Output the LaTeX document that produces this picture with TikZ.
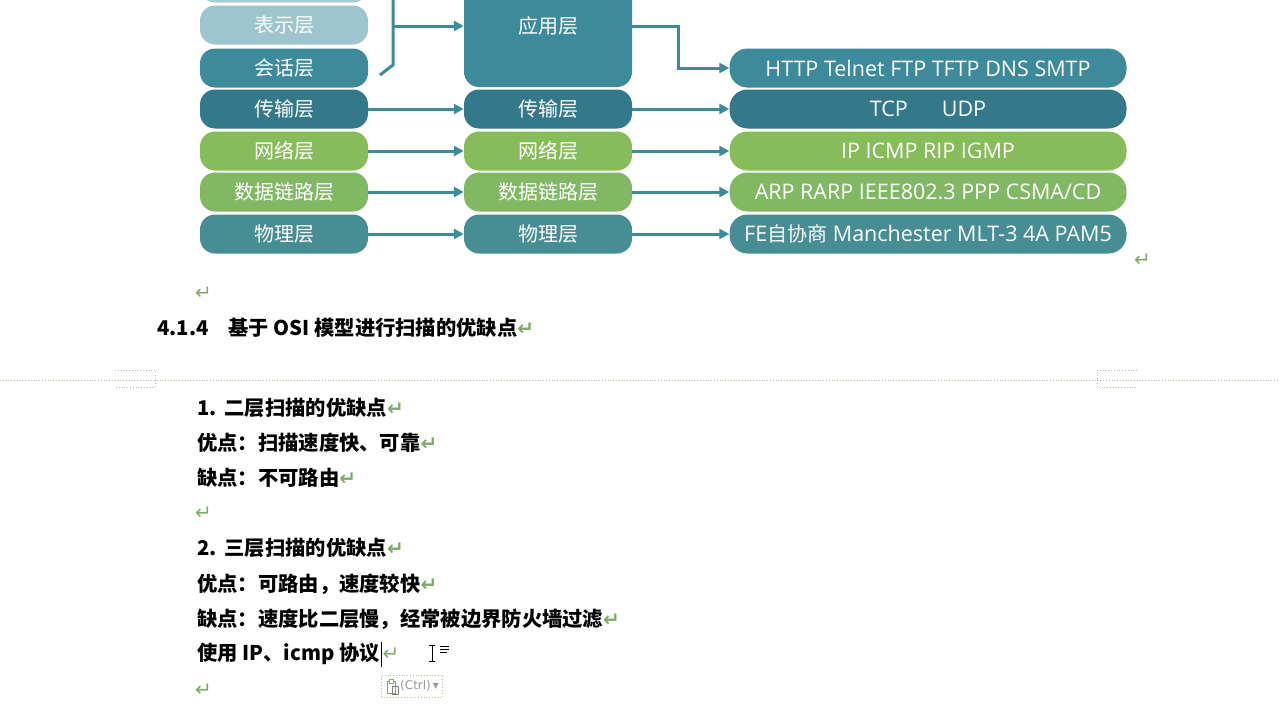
\documentclass[tikz,border=0pt]{standalone}
\usepackage{fontspec}
\setmainfont{Noto Sans CJK SC}
\newfontfamily\symf{DejaVu Sans}
\newfontfamily\latf{Open Sans}
\newcommand{\lat}{\latf\fontsize{21.5}{21.5}\selectfont}
\usetikzlibrary{arrows.meta}
\definecolor{teal1}{HTML}{3D8A9B}
\definecolor{tealdk}{HTML}{33798A}
\definecolor{teal3}{HTML}{478D94}
\definecolor{green1}{HTML}{86BC5A}
\definecolor{green2}{HTML}{82B864}
\definecolor{retc}{HTML}{7FAA68}
\definecolor{rulec}{HTML}{A9C79A}
\newcommand{\ret}{{\symf\color{retc}\fontsize{20}{20}\selectfont ↵}}
\begin{document}
\begin{tikzpicture}[x=1pt,y=-1pt,
  lay/.style={rounded corners=15pt, minimum height=39pt, text=white, inner sep=0pt, font=\fontsize{20}{20}\selectfont},
  lcol/.style={lay, minimum width=168pt},
  rcol/.style={lay, minimum width=397pt, rounded corners=18pt},
  link/.style={draw=teal1, line width=3pt},
  arr/.style={link, -{Triangle[length=10pt,width=10pt]}},
  body/.style={anchor=west, inner sep=0pt, font=\bfseries\fontsize{20.3}{20.3}\selectfont},
  retn/.style={anchor=west, inner sep=0pt, font=\symf\fontsize{20}{20}\selectfont, text=retc}
]
\fill[white] (0,0) rectangle (1280,720);
\useasboundingbox (0,0) rectangle (1280,720);

% left column
\node[lcol, fill=teal1!45] (p0) at (284,-17) {};
\node[lcol, fill=teal1!50] (p1) at (284,25) {表示层};
\node[lcol, fill=teal1] (s) at (284,68) {会话层};
\node[lcol, fill=tealdk] (t) at (284,109) {传输层};
\node[lcol, fill=green1] (n) at (284,151) {网络层};
\node[lcol, fill=green2] (d) at (284,192) {数据链路层};
\node[lcol, fill=teal3] (ph) at (284,234) {物理层};

% middle column
\node[lcol, fill=teal1, minimum height=122pt] (a) at (548,26) {应用层};
\node[lcol, fill=tealdk] (t2) at (548,109) {传输层};
\node[lcol, fill=green1] (n2) at (548,151) {网络层};
\node[lcol, fill=green2] (d2) at (548,192) {数据链路层};
\node[lcol, fill=teal3] (ph2) at (548,234) {物理层};

% right column
\node[rcol, fill=teal1] (h) at (928,68) {\lat HTTP Telnet FTP TFTP DNS SMTP};
\node[rcol, fill=tealdk] (t3) at (928,109) {\lat TCP\hspace{34pt}UDP};
\node[rcol, fill=green1] (n3) at (928,151) {\lat IP ICMP RIP IGMP};
\node[rcol, fill=green2] (d3) at (928,192) {\lat ARP RARP IEEE802.3 PPP CSMA/CD};
\node[rcol, fill=teal3] (ph3) at (928,234) {{\lat FE}自协商{\lat\ Manchester MLT-3 4A PAM5}};

% connectors
\coordinate (b0) at (393,-5);
\coordinate (bm) at (393,26);
\coordinate (b1) at (393,65);
\coordinate (b2) at (380,75);
\draw[link] (b0) -- (b1) -- (b2);
\draw[arr] (bm) -- (a.west);
\coordinate (ak) at (678,26);
\draw[arr] (a.east) -- (ak) |- (h.west);
\draw[arr] (t.east) -- (t2.west);
\draw[arr] (n.east) -- (n2.west);
\draw[arr] (d.east) -- (d2.west);
\draw[arr] (ph.east) -- (ph2.west);
\draw[arr] (t2.east) -- (t3.west);
\draw[arr] (n2.east) -- (n3.west);
\draw[arr] (d2.east) -- (d3.west);
\draw[arr] (ph2.east) -- (ph3.west);

% paragraph marks
\node[retn] (r1) at (1134,260) {↵};
\node[retn] (r2) at (195,293) {↵};

% heading
\node[body] (hd) at (157,328) {4.1.4\hspace{20pt}基于 OSI 模型进行扫描的优缺点\ret};

% page header separator
\draw[rulec, dotted, line width=0.8pt] (0,380) -- (1280,380);
\draw[rulec, dotted, line width=0.8pt] (115,370) -- (155,370) -- (155,387) -- (115,387);
\draw[rulec, dotted, line width=0.8pt] (1137,370) -- (1097,370) -- (1097,387) -- (1137,387);

% body text
\node[body] (l1) at (197,408) {1.\hspace{8pt}二层扫描的优缺点\ret};
\node[body] (l2) at (197,443) {优点：扫描速度快、可靠\ret};
\node[body] (l3) at (197,478) {缺点：不可路由\ret};
\node[retn] (l4) at (195,513) {↵};
\node[body] (l5) at (197,548) {2.\hspace{8pt}三层扫描的优缺点\ret};
\node[body] (l6) at (197,584) {优点：可路由，速度较快\ret};
\node[body] (l7) at (197,619) {缺点：速度比二层慢，经常被边界防火墙过滤\ret};
\node[body] (l8) at (197,654) {使用 IP、icmp 协议};
\coordinate (cur) at ([xshift=1.5pt]l8.east);
\draw[black, line width=1pt] ([yshift=-13pt]cur) -- ([yshift=12pt]cur);
\node[retn] (l8r) at ([xshift=1pt]cur) {↵};
\node[retn] (l9) at (195,690) {↵};

% mouse I-beam and format icon
\draw[black, line width=0.9pt] (429,645) -- (435,645) (432,645) -- (432,661) (429,661) -- (435,661);
\draw[black, line width=0.9pt] (440,646) -- (449,646) (440,649) -- (449,649) (440,652) -- (447,652);

% paste options button
\node[draw=rulec, dotted, line width=0.8pt, minimum width=61pt, minimum height=22pt, inner sep=0pt] (pb) at (412,686) {};
\draw[retc, line width=1pt] (387,681) rectangle (395,693);
\fill[white] (389,679) rectangle (393,683);
\draw[retc, line width=1pt] (389,679) rectangle (393,683);
\draw[gray, line width=0.8pt] (392,686) rectangle (398,694);
\node[anchor=west, inner sep=0pt, font=\symf\fontsize{12}{12}\selectfont, text=gray!80] (ctrl) at (400,686) {(Ctrl)\,▾};
\end{tikzpicture}
\end{document}
